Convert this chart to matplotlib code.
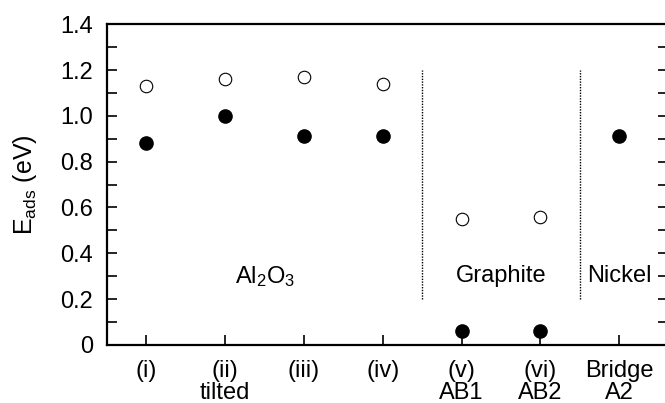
import matplotlib
matplotlib.use('Agg')
import matplotlib.pyplot as plt
import matplotlib.ticker as mticker

# ── Data ──────────────────────────────────────────────────────────────────────
TICK_LABELS = ['(i)', '(ii)\ntilted', '(iii)', '(iv)', '(v)\nAB1', '(vi)\nAB2', 'Bridge\nA2']
OPEN_X      = [1, 2, 3, 4, 5, 6]
OPEN_E      = [1.13, 1.16, 1.17, 1.14, 0.55, 0.56]
FILLED_X    = [1, 2, 3, 4, 5, 6, 7]
FILLED_E    = [0.88, 1.00, 0.91, 0.91, 0.06, 0.06, 0.91]
DIVIDERS    = [4.5, 6.5]
REGIONS     = [(2.5, r'Al$_2$O$_3$'), (5.5, 'Graphite'), (7.0, 'Nickel')]
Y_TICKS     = [0, 0.2, 0.4, 0.6, 0.8, 1.0, 1.2, 1.4]

plt.rcParams['font.family'] = ['Liberation Sans', 'DejaVu Sans']
plt.rcParams['mathtext.fontset'] = 'custom'
plt.rcParams['mathtext.rm'] = 'Liberation Sans'
plt.rcParams['mathtext.it'] = 'Liberation Sans'

FS = 17

fig = plt.figure(figsize=(6.65, 4.03), dpi=100)
ax = fig.add_axes([0.161, 0.144, 1.0045 - 0.161, 0.940 - 0.144])

ax.plot(OPEN_X, OPEN_E, 'o', ms=9, mfc='white', mec='black', mew=0.8, ls='none')
ax.plot(FILLED_X, FILLED_E, 'o', ms=9.5, mfc='black', mec='black', ls='none')

for xd in DIVIDERS:
    ax.plot([xd, xd], [0.2, 1.2], color='black', ls=(0, (1, 1.0)), lw=1.0)

for xt, txt in REGIONS:
    ax.text(xt, 0.30, txt, ha='center', va='center', fontsize=FS)

ax.set_xlim(0.5, 7.62)
ax.set_ylim(0, 1.4)
ax.set_xticks(FILLED_X)
ax.set_xticklabels(TICK_LABELS, fontsize=FS, linespacing=1.0)
ax.set_yticks(Y_TICKS)
ax.yaxis.set_major_formatter(mticker.FuncFormatter(lambda v, p: '0' if v == 0 else f'{v:.1f}'))
ax.yaxis.set_minor_locator(mticker.MultipleLocator(0.1))
ax.tick_params(axis='y', which='both', direction='in', length=7, width=1.2,
               labelsize=FS, right=True, pad=10)
ax.tick_params(axis='x', direction='in', length=7, width=1.2, pad=11)

for s in ax.spines.values():
    s.set_linewidth(1.6)

ax.set_ylabel(r'E$_{\rm ads}$ (eV)', fontsize=18, labelpad=15)

plt.savefig('out.png', dpi=100)
plt.close()
